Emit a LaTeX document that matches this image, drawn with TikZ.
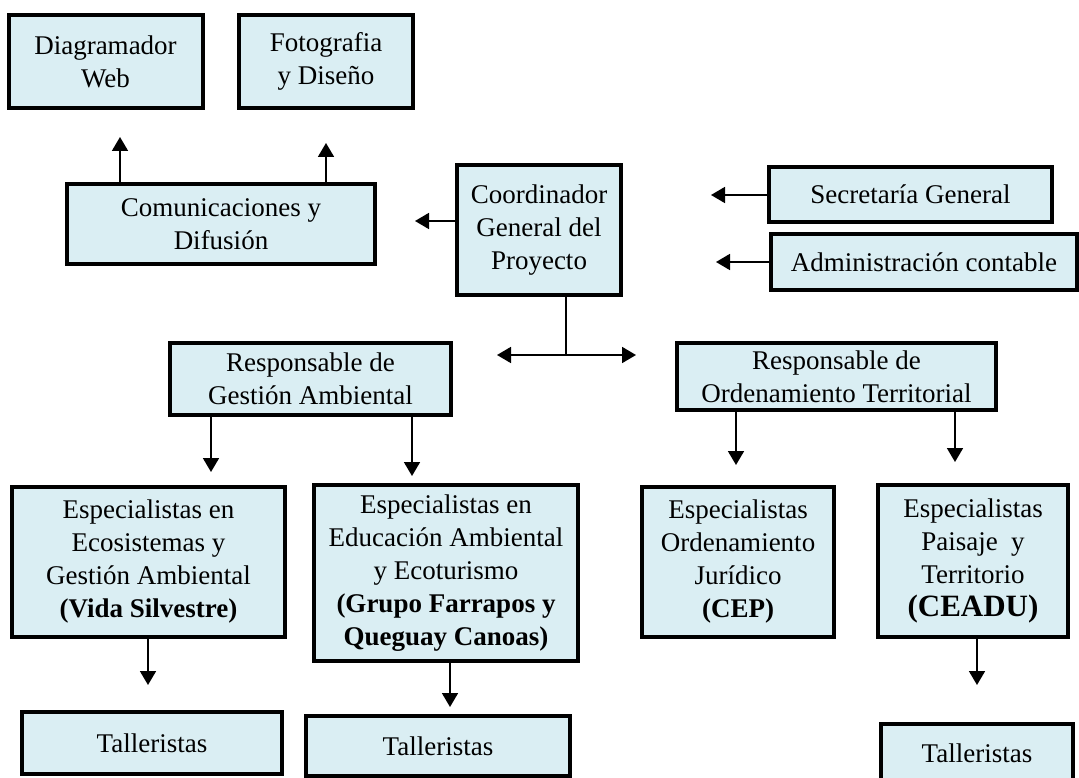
\documentclass[tikz,border=0pt]{standalone}
\usepackage{fontspec}
\setmainfont{Liberation Serif}
\usetikzlibrary{arrows.meta,calc}
\definecolor{boxfill}{HTML}{DAEEF3}
\begin{document}
\begin{tikzpicture}[x=1pt,y=-1pt,
  box/.style={draw=black, line width=4pt, fill=boxfill, align=center,
    font=\fontsize{27}{33}\selectfont, inner sep=0pt},
  tip/.style={Triangle[width=16pt,length=14pt]},
  arr/.style={line width=1.8pt, -{Triangle[width=16pt,length=14pt]}},
  darr/.style={line width=1.8pt, {Triangle[width=16pt,length=14pt]}-{Triangle[width=16pt,length=14pt]}},
  ln/.style={line width=1.8pt}]
\useasboundingbox (0,0) rectangle (1079,778);

% boxes
\node[box, minimum width=194pt, minimum height=93pt] (dw) at (105.5,61.5) {Diagramador\\Web};
\node[box, minimum width=174pt, minimum height=93pt] (fd) at (326,61.5) {Fotografia\\y Diseño};
\node[box, minimum width=308pt, minimum height=80pt] (com) at (221,224) {Comunicaciones y\\Difusión};
\node[box, minimum width=164pt, minimum height=130pt] (coord) at (539,230) {Coordinador\\General del\\Proyecto};
\node[box, minimum width=283pt, minimum height=55pt] (sec) at (910.5,194.5) {Secretaría General};
\node[box, minimum width=306pt, minimum height=56pt] (adm) at (924,262) {Administración contable};
\node[box, minimum width=281pt, minimum height=72pt] (rga) at (310.5,379) {Responsable de\\Gestión Ambiental};
\node[box, minimum width=319pt, minimum height=67pt] (rot) at (836.5,376.5) {Responsable de\\Ordenamiento Territorial};
\node[box, minimum width=273pt, minimum height=150pt] (eco) at (148.5,562) {Especialistas en\\Ecosistemas y\\Gestión Ambiental\\\textbf{(Vida Silvestre)}};
\node[box, minimum width=264pt, minimum height=176pt] (edu) at (446,573) {Especialistas en\\Educación Ambiental\\y Ecoturismo\\\textbf{(Grupo Farrapos y}\\\textbf{Queguay Canoas)}};
\node[box, minimum width=192pt, minimum height=150pt] (jur) at (738,562) {Especialistas\\Ordenamiento\\Jurídico\\\textbf{(CEP)}};
\node[box, minimum width=190pt, minimum height=152pt] (pai) at (973,561) {Especialistas\\Paisaje\ \ y\\Territorio\\{\fontsize{31}{34}\selectfont\textbf{(CEADU)}}};
\node[box, minimum width=260pt, minimum height=62pt] (t1) at (152,743) {Talleristas};
\node[box, minimum width=264pt, minimum height=60pt] (t2) at (438,746) {Talleristas};
\node[box, minimum width=192pt, minimum height=58pt] (t3) at (977,753) {Talleristas};

% arrow tips (free ends)
\coordinate (a1) at (120,137);
\coordinate (a2) at (326,143);
\coordinate (a3) at (415,221);
\coordinate (a4) at (711,195);
\coordinate (a5) at (716,262);
\coordinate (j) at (566,355);
\coordinate (dl) at (497,355);
\coordinate (dr) at (636,355);
\coordinate (b1) at (211,472);
\coordinate (b2) at (412,476);
\coordinate (b3) at (736,465);
\coordinate (b4) at (955,462);
\coordinate (c1) at (148,685);
\coordinate (c2) at (450,707);
\coordinate (c3) at (977,685);

% connectors
\draw[arr] (com.north -| a1) -- (a1);
\draw[arr] (com.north -| a2) -- (a2);
\draw[arr] (coord.west |- a3) -- (a3);
\draw[arr] (sec.west |- a4) -- (a4);
\draw[arr] (adm.west |- a5) -- (a5);
\draw[ln] (coord.south -| j) -- (j);
\draw[darr] (dl) -- (dr);
\draw[arr] (rga.south -| b1) -- (b1);
\draw[arr] (rga.south -| b2) -- (b2);
\draw[arr] (rot.south -| b3) -- (b3);
\draw[arr] (rot.south -| b4) -- (b4);
\draw[arr] (eco.south -| c1) -- (c1);
\draw[arr] (edu.south -| c2) -- (c2);
\draw[arr] (pai.south -| c3) -- (c3);
\end{tikzpicture}
\end{document}
